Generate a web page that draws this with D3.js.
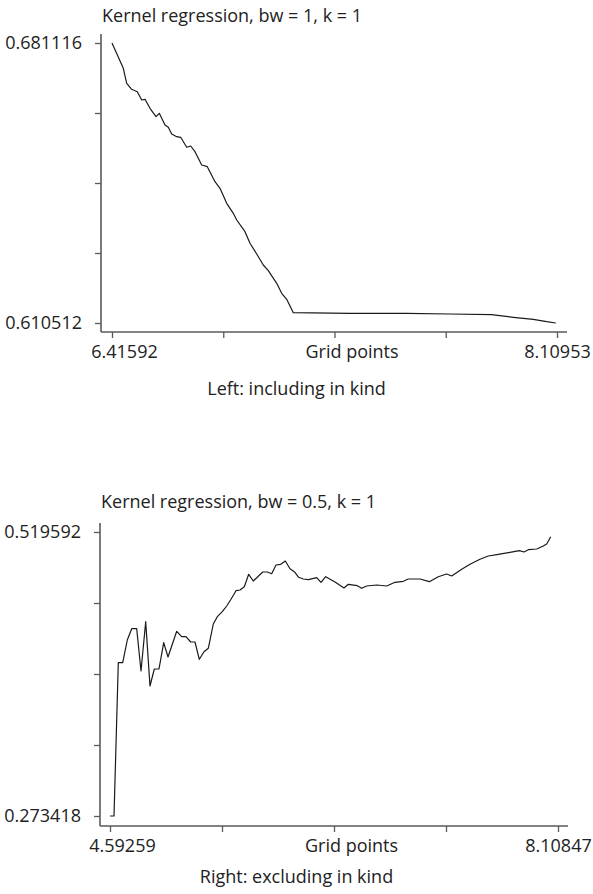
<!DOCTYPE html>
<html>
<head>
<meta charset="utf-8">
<script src="https://cdn.jsdelivr.net/npm/d3@7"></script>
<style>
  body { margin: 0; background: #fff; }
  svg text { font-family: "Open Sans", sans-serif; fill: #222; }
</style>
</head>
<body>
<svg width="593" height="894"></svg>
<script>
// top panel: including in kind (bw = 1)
leftX = [6.41592, 6.45893, 6.47187, 6.49090, 6.51221, 6.52896, 6.54151, 6.56054, 6.58338, 6.59594,
    6.61763, 6.63019, 6.64313, 6.66216, 6.67739, 6.70022, 6.71544, 6.73181, 6.75731, 6.77862,
    6.80793, 6.82696, 6.85246, 6.87758, 6.89052, 6.92210, 6.94113, 6.96663, 6.99175, 7.01078,
    7.04275, 7.06178, 7.08081, 7.10593, 7.32172, 7.53752, 7.70000, 7.86102, 7.94323, 8.01935,
    8.07035, 8.10500];
leftY = [0.681116, 0.674737, 0.670955, 0.669442, 0.668837, 0.666744, 0.666920, 0.664651, 0.662533, 0.663390,
    0.660440, 0.659860, 0.658170, 0.657489, 0.657338, 0.654817, 0.655144, 0.653707, 0.650353, 0.649925,
    0.646142, 0.644478, 0.640696, 0.638174, 0.636484, 0.633534, 0.630609, 0.627911, 0.625137, 0.623700,
    0.620523, 0.618001, 0.616488, 0.613109, 0.612958, 0.612958, 0.612781, 0.612605, 0.611949, 0.611445,
    0.610840, 0.610512];

// bottom panel: excluding in kind (bw = 0.5)
rightX = [4.59259, 4.62398, 4.65773, 4.69226, 4.72836, 4.76289, 4.80213, 4.83587, 4.87276, 4.90651,
    4.94025, 4.97714, 5.01402, 5.04777, 5.11604, 5.15528, 5.18903, 5.22592, 5.25966, 5.29341,
    5.33029, 5.36404, 5.40328, 5.43467, 5.47391, 5.50844, 5.54219, 5.58143, 5.61282, 5.64656,
    5.68109, 5.71719, 5.79096, 5.82706, 5.86160, 5.89534, 5.93223, 5.96833, 6.00521, 6.03896,
    6.07349, 6.10959, 6.14883, 6.21475, 6.24850, 6.28538, 6.35837, 6.42900, 6.46274, 6.53338,
    6.56791, 6.60715, 6.68562, 6.76410, 6.82924, 6.89438, 6.93362, 7.02544, 7.09842, 7.16905,
    7.23498, 7.27422, 7.35270, 7.41783, 7.49631, 7.56145, 7.63993, 7.73175, 7.80474, 7.84162,
    7.87537, 7.94129, 7.99309, 8.01977, 8.05116];
rightY = [0.273418, 0.273418, 0.406300, 0.406300, 0.425977, 0.435772, 0.435772, 0.399105, 0.441839, 0.386103,
    0.400839, 0.400839, 0.423636, 0.411241, 0.433518, 0.428837, 0.428837, 0.424243, 0.424243, 0.409247,
    0.415835, 0.418782, 0.439846, 0.446173, 0.450507, 0.455448, 0.461256, 0.468710, 0.469317, 0.472178,
    0.482926, 0.477118, 0.484920, 0.484920, 0.483446, 0.490987, 0.491594, 0.494455, 0.487780, 0.485180,
    0.480326, 0.478852, 0.478245, 0.479979, 0.475991, 0.480846, 0.476252, 0.471051, 0.474258, 0.473044,
    0.470791, 0.472784, 0.473651, 0.472784, 0.475991, 0.476858, 0.478852, 0.478852, 0.476512, 0.480846,
    0.483186, 0.481452, 0.487260, 0.491594, 0.495928, 0.498789, 0.500262, 0.501996, 0.503383, 0.502256,
    0.504249, 0.504856, 0.507457, 0.509190, 0.515518];

panels = [
    { title: "Kernel regression, bw = 1, k = 1", caption: "Left: including in kind",
      xs: leftX, ys: leftY, xmin: 6.41592, xmax: 8.10953, ymin: 0.610512, ymax: 0.681116,
      xLabels: ["6.41592", "Grid points", "8.10953"], yLabels: ["0.610512", "0.681116"],
      top: 43, bottom: 323, left: 112, right: 557, axisX: 101, axisY: 332, axisEnd: 567, titleY: 17, captionY: 390 },
    { title: "Kernel regression, bw = 0.5, k = 1", caption: "Right: excluding in kind",
      xs: rightX, ys: rightY, xmin: 4.59259, xmax: 8.10847, ymin: 0.273418, ymax: 0.519592,
      xLabels: ["4.59259", "Grid points", "8.10847"], yLabels: ["0.273418", "0.519592"],
      top: 532, bottom: 816, left: 110, right: 558, axisX: 100, axisY: 826, axisEnd: 568, titleY: 503, captionY: 878 }
];

// horizontal nudge of the x labels (first, middle, last), as in the original
xLabelShift = [12, 17, 0];

svg = d3.select('svg');
axisColor = '#5a5a5a';

panels.forEach((p) => {
    g = svg.append('g');

    xScale = d3.scaleLinear().domain([p.xmin, p.xmax]).range([p.left, p.right]);
    yScale = d3.scaleLinear().domain([p.ymin, p.ymax]).range([p.bottom, p.top]);

    // 5 evenly spaced ticks on each axis
    xTicks = d3.range(5).map((i) => p.xmin + i * (p.xmax - p.xmin) / 4);
    yTicks = d3.range(5).map((i) => p.ymin + i * (p.ymax - p.ymin) / 4);

    yAxis = g.append('g')
        .attr('transform', `translate(${p.axisX}, 0)`)
        .call(d3.axisLeft(yScale).tickValues(yTicks).tickSize(6).tickSizeOuter(0)
            .tickFormat((d, i) => i == 0 ? p.yLabels[0] : (i == 4 ? p.yLabels[1] : '')));
    yAxis.select('.domain').remove();

    xAxis = g.append('g')
        .attr('transform', `translate(0, ${p.axisY})`)
        .call(d3.axisBottom(xScale).tickValues(xTicks).tickSize(6).tickSizeOuter(0)
            .tickFormat((d, i) => i == 0 ? p.xLabels[0] : (i == 2 ? p.xLabels[1] : (i == 4 ? p.xLabels[2] : ''))));
    xAxis.select('.domain').remove();

    g.selectAll('.tick line').attr('stroke', axisColor).attr('stroke-width', 1.3);
    g.selectAll('.tick text')
        .attr('font-family', '"Open Sans", sans-serif')
        .attr('font-size', 18)
        .attr('fill', '#222');
    yAxis.selectAll('.tick text').attr('x', -19);
    xAxis.selectAll('.tick text')
        .attr('y', 13)
        .attr('dx', (d, i) => i == 0 ? xLabelShift[0] : (i == 2 ? xLabelShift[1] : (i == 4 ? xLabelShift[2] : 0)));

    // axis lines
    g.append('line')
        .attr('x1', p.axisX).attr('x2', p.axisX)
        .attr('y1', p.top - 9).attr('y2', p.axisY)
        .attr('stroke', axisColor).attr('stroke-width', 1.6);
    g.append('line')
        .attr('x1', p.axisX).attr('x2', p.axisEnd)
        .attr('y1', p.axisY).attr('y2', p.axisY)
        .attr('stroke', axisColor).attr('stroke-width', 1.6);

    line = d3.line()
        .x((d, i) => xScale(p.xs[i]))
        .y((d, i) => yScale(p.ys[i]));

    g.append('path')
        .datum(p.xs)
        .attr('d', line)
        .attr('fill', 'none')
        .attr('stroke', '#1a1a1a')
        .attr('stroke-width', 1.2)
        .attr('stroke-linejoin', 'round');

    g.append('text')
        .attr('x', p.axisX + 1)
        .attr('y', p.titleY)
        .attr('dominant-baseline', 'middle')
        .attr('font-size', 18)
        .text(p.title);

    g.append('text')
        .attr('x', 296.5)
        .attr('y', p.captionY)
        .attr('text-anchor', 'middle')
        .attr('dominant-baseline', 'middle')
        .attr('font-size', 18)
        .text(p.caption);
});
</script>
</body>
</html>
